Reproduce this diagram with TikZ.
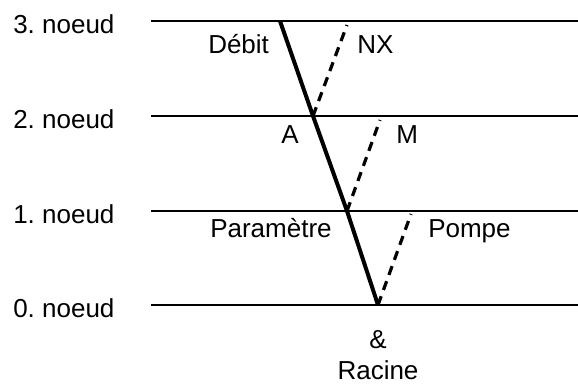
\documentclass[tikz,border=0pt]{standalone}
\usepackage{fontspec}
\setmainfont{Liberation Sans}
\usetikzlibrary{positioning}
\frenchspacing

\begin{document}
\begin{tikzpicture}[
    x=0.75pt, y=-0.75pt,
    every node/.style={font=\fontsize{19.5}{23}\selectfont, inner sep=0pt},
    lbl/.style={anchor=base west},
    level/.style={line width=1.6pt},
    main/.style={line width=3pt},
    side/.style={line width=2.4pt, dash pattern=on 7pt off 5pt}
]
    \useasboundingbox (0,0) rectangle (578,383);

    % Levels
    \coordinate (l3) at (151, 21);  \coordinate (r3) at (578, 21);
    \coordinate (l2) at (151,116);  \coordinate (r2) at (578,116);
    \coordinate (l1) at (151,211);  \coordinate (r1) at (578,211);
    \coordinate (l0) at (151,305);  \coordinate (r0) at (578,305);

    \draw[level] (l3) -- (r3);
    \draw[level] (l2) -- (r2);
    \draw[level] (l1) -- (r1);
    \draw[level] (l0) -- (r0);

    \node[lbl] (n3) at (13, 33) {3. noeud};
    \node[lbl] (n2) at (13,128) {2. noeud};
    \node[lbl] (n1) at (13,223) {1. noeud};
    \node[lbl] (n0) at (13,317) {0. noeud};

    % Main path
    \coordinate (d3) at (280, 21);
    \coordinate (d2) at (313,116);
    \coordinate (d1) at (347,211);
    \coordinate (d0) at (378,305);

    \draw[main] (d3) -- (d2) -- (d1) -- (d0);

    % Side branches
    \coordinate (s2) at (347, 25);
    \coordinate (s1) at (380,120);
    \coordinate (s0) at (411,214);

    \draw[side] (d2) -- (s2);
    \draw[side] (d1) -- (s1);
    \draw[side] (d0) -- (s0);

    % Labels
    \node[lbl] (debit) at (208, 53) {Débit};
    \node[lbl] (nx)    at (357, 53) {NX};
    \node[lbl] (a)     at (281,143) {A};
    \node[lbl] (m)     at (396,143) {M};
    \node[lbl] (param) at (210,237) {Paramètre};
    \node[lbl] (pompe) at (428,237) {Pompe};
    \node[anchor=base] (amp)    at (378,348) {\&};
    \node[anchor=base] (racine) at (378,379) {Racine};
\end{tikzpicture}
\end{document}
